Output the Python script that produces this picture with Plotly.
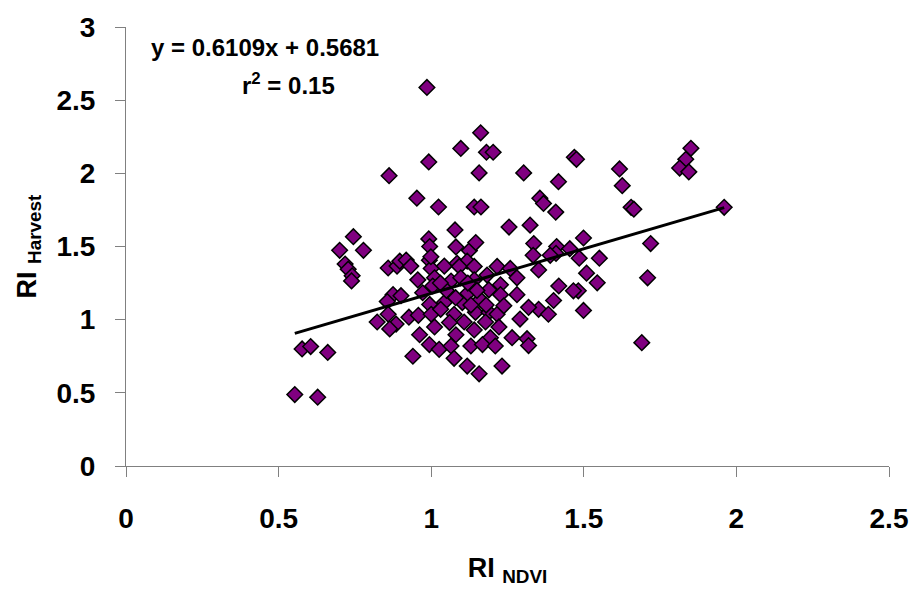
import plotly.graph_objects as go

ri_ndvi = [
    0.553, 0.628, 0.577, 0.605, 0.661, 0.745, 0.700, 0.778, 0.718, 0.728,
    0.741, 0.739, 0.859, 0.888, 0.897, 0.918, 0.933, 0.875, 0.856, 0.859,
    0.885, 0.823, 0.864, 0.927, 0.956, 0.958, 0.962, 0.940, 0.986, 0.992,
    0.862, 0.953, 1.024, 0.992, 0.995, 1.162, 1.097, 1.181, 1.203, 1.469,
    1.476, 1.157, 1.303, 1.417, 1.141, 1.163, 1.356, 1.368, 1.408, 1.255,
    1.324, 1.078, 1.499, 1.081, 1.125, 1.146, 1.336, 1.411, 1.454, 1.409,
    1.334, 1.485, 0.994, 1.000, 1.043, 1.085, 1.118, 1.216, 1.509, 1.851,
    1.834, 1.814, 1.844, 1.617, 1.626, 1.655, 1.664, 1.960, 1.719, 1.551,
    1.544, 1.709, 1.482, 1.690, 0.999, 1.092, 1.141, 1.259, 1.281, 1.352,
    1.390, 1.011, 1.065, 1.097, 1.141, 1.183, 1.227, 1.281, 1.418, 1.466,
    1.401, 1.352, 1.384, 1.319, 1.291, 1.499, 0.901, 0.972, 1.005, 0.995,
    1.043, 1.102, 1.161, 1.189, 1.227, 1.000, 1.031, 1.075, 1.145, 1.189,
    1.216, 1.238, 1.011, 1.108, 1.178, 1.222, 1.081, 1.141, 1.194, 1.265,
    1.314, 1.319, 0.994, 1.026, 1.065, 1.130, 1.168, 1.210, 1.075, 1.118,
    1.157, 1.232, 1.050, 1.120, 1.080, 1.150, 1.030, 1.120, 1.180, 1.060,
    1.130,
]
ri_harvest = [
    0.488, 0.470, 0.800, 0.816, 0.776, 1.567, 1.474, 1.474, 1.380, 1.345,
    1.300, 1.265, 1.353, 1.366, 1.400, 1.407, 1.366, 1.171, 1.124, 1.037,
    0.970, 0.984, 0.937, 1.017, 1.272, 1.030, 0.897, 0.750, 2.587, 2.078,
    1.984, 1.830, 1.770, 1.552, 1.500, 2.277, 2.170, 2.144, 2.144, 2.110,
    2.096, 2.003, 2.003, 1.943, 1.770, 1.770, 1.830, 1.794, 1.735, 1.633,
    1.646, 1.613, 1.558, 1.497, 1.472, 1.527, 1.520, 1.500, 1.485, 1.453,
    1.440, 1.420, 1.406, 1.350, 1.366, 1.385, 1.400, 1.364, 1.318, 2.171,
    2.096, 2.036, 2.010, 2.030, 1.916, 1.768, 1.755, 1.768, 1.520, 1.420,
    1.252, 1.286, 1.197, 0.843, 1.430, 1.364, 1.364, 1.350, 1.286, 1.340,
    1.440, 1.286, 1.264, 1.286, 1.272, 1.305, 1.238, 1.171, 1.230, 1.197,
    1.131, 1.071, 1.037, 1.084, 1.004, 1.063, 1.164, 1.184, 1.230, 1.104,
    1.117, 1.117, 1.137, 1.204, 1.171, 1.037, 1.071, 1.037, 1.050, 1.050,
    1.037, 1.095, 0.950, 0.984, 0.984, 0.950, 0.897, 0.930, 0.877, 0.877,
    0.870, 0.823, 0.830, 0.797, 0.820, 0.820, 0.830, 0.820, 0.736, 0.683,
    0.630, 0.683, 1.200, 1.180, 1.150, 1.200, 1.250, 1.250, 1.100, 0.980,
    1.100,
]

slope = 0.6109
intercept = 0.5681
trend_x = [min(ri_ndvi), max(ri_ndvi)]
trend_y = [slope * v + intercept for v in trend_x]

x_ticks = [0, 0.5, 1, 1.5, 2, 2.5]
x_tick_labels = ["0", "0.5", "1", "1.5", "2", "2.5"]
y_ticks = [0, 0.5, 1, 1.5, 2, 2.5, 3]
y_tick_labels = ["0", "0.5", "1", "1.5", "2", "2.5", "3"]

FONT = "Liberation Sans, Arial, sans-serif"

fig = go.Figure()
fig.add_trace(go.Scatter(
    x=ri_ndvi, y=ri_harvest, mode="markers",
    marker=dict(symbol="diamond", size=12, color="#800080",
                line=dict(color="black", width=1.5)),
    showlegend=False,
))
fig.add_trace(go.Scatter(
    x=trend_x, y=trend_y, mode="lines",
    line=dict(color="black", width=3),
    showlegend=False,
))

fig.add_annotation(x=0.456, y=2.86, xref="x", yref="y",
                   text="<b>y = 0.6109x + 0.5681</b>", showarrow=False,
                   font=dict(family=FONT, size=24, color="black"))
fig.add_annotation(x=0.534, y=2.61, xref="x", yref="y",
                   text="<b>r<sup>2</sup> = 0.15</b>", showarrow=False,
                   font=dict(family=FONT, size=24, color="black"))

fig.update_layout(
    width=920, height=589,
    margin=dict(l=126, r=25, t=19, b=122),
    paper_bgcolor="white", plot_bgcolor="white",
    font=dict(family=FONT, color="black"),
    xaxis=dict(
        range=[0, 2.5], tickmode="array", tickvals=x_ticks, ticktext=x_tick_labels,
        showgrid=False, zeroline=False, showline=True, linecolor="#808080", linewidth=1,
        ticks="outside", ticklen=10, tickcolor="#808080", tickwidth=1,
        tickfont=dict(family=FONT, size=28, color="black", weight="bold"),
        ticklabelstandoff=17,
        title=dict(text="<b>RI <sub>NDVI</sub></b>", font=dict(family=FONT, size=27, color="black"),
                   standoff=25),
    ),
    yaxis=dict(
        range=[0, 3], tickmode="array", tickvals=y_ticks, ticktext=y_tick_labels,
        showgrid=False, zeroline=False, showline=True, linecolor="#808080", linewidth=1,
        ticks="outside", ticklen=10, tickcolor="#808080", tickwidth=1,
        tickfont=dict(family=FONT, size=28, color="black", weight="bold"),
        ticklabelstandoff=14,
        title=dict(text="<b>RI <sub>Harvest</sub></b>", font=dict(family=FONT, size=27, color="black"),
                   standoff=12),
    ),
)

fig.write_html("out.html")
